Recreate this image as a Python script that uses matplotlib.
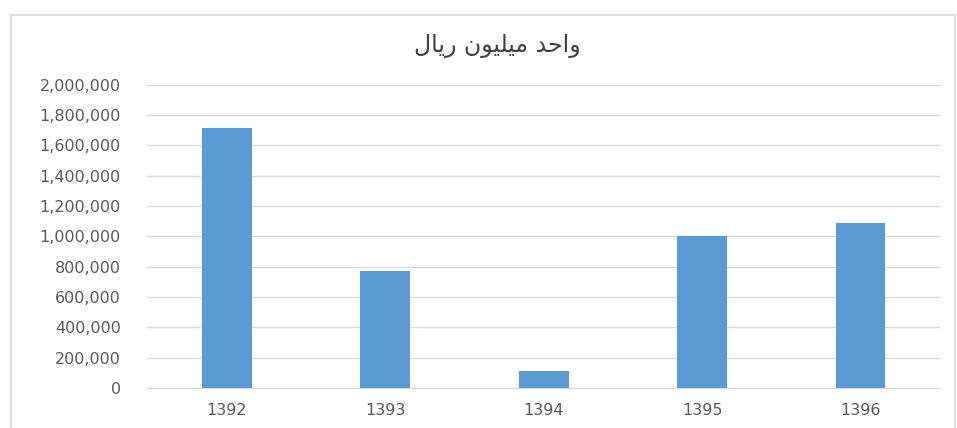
import matplotlib.pyplot as plt
from matplotlib.patches import Rectangle
from matplotlib.ticker import FuncFormatter

years = ['1392', '1393', '1394', '1395', '1396']
values = [1715000, 770000, 115000, 1000000, 1085000]

# title "واحد میلیون ریال" written with presentation forms in visual order
title = '\uFEDD\uFE8E\uFEF3\uFEAD \uFEE5\uFEEE\uFEF4\uFEE0\uFEF4\uFEE3 \uFEAA\uFEA3\uFE8D\uFEED'

fig = plt.figure(figsize=(9.57, 4.28), dpi=100)
ax = fig.add_axes([0.154, 0.0935, 0.828, 0.7085])

ax.bar(range(len(years)), values, width=0.315, color='#5b9bd5', zorder=3)
ax.set_xlim(-0.5, 4.5)
ax.set_ylim(0, 2000000)
ax.set_yticks(range(0, 2000001, 200000))
ax.yaxis.set_major_formatter(FuncFormatter(lambda v, p: f'{int(v):,}'))
ax.set_xticks(range(len(years)))
ax.set_xticklabels(years)

ax.grid(axis='y', color='#d9d9d9', linewidth=1, zorder=0)
for s in ['top', 'right', 'left']:
    ax.spines[s].set_visible(False)
ax.spines['bottom'].set_color('#d9d9d9')
ax.tick_params(length=0, colors='#595959', labelsize=11.5)
ax.tick_params(axis='y', pad=19)
ax.tick_params(axis='x', pad=11)

fig.text(0.52, 0.893, title, ha='center', va='center', fontsize=17,
         color='#404040', family=['DejaVu Sans'])

fig.patches.append(Rectangle((10.5 / 957, -0.01), (955 - 10.5) / 957, 1 - 15 / 428 + 0.01,
                             transform=fig.transFigure, fill=False,
                             edgecolor='#d9d9d9', linewidth=1.2))

fig.savefig('out.png', dpi=100)
